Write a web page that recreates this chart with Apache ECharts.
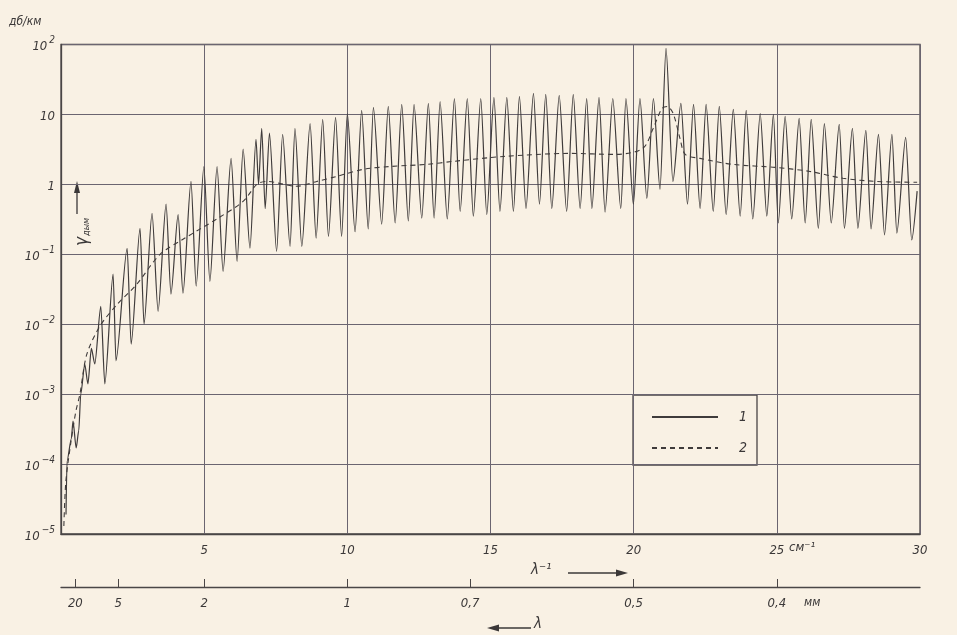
<!DOCTYPE html>
<html><head><meta charset="utf-8">
<script src="https://cdn.jsdelivr.net/npm/echarts@6/dist/echarts.min.js"></script>
<style>html,body{margin:0;padding:0;background:#f9f1e4;}#c{width:957px;height:635px;}</style>
</head><body><div id="c"></div>
<script>
// Curve 1: line spectrum (wavenumber cm^-1, attenuation dB/km)
const nu1 = [0.175, 0.21, 0.36, 0.42, 0.53, 0.62, 0.69, 0.83, 0.94, 1.06, 1.18,
1.39, 1.53, 1.82, 1.92, 2.31, 2.45, 2.76, 2.90, 3.18, 3.39, 3.67, 3.84, 4.09, 4.26, 4.54, 4.72, 4.99, 5.20, 5.45, 5.66, 5.94, 6.15, 6.36, 6.60, 6.81, 6.90, 7.01, 7.13, 7.28, 7.53, 7.74, 8.00, 8.17, 8.41, 8.70, 8.91, 9.14, 9.34, 9.59, 9.80, 10.00, 10.27, 10.50, 10.73, 10.91, 11.20, 11.43, 11.67, 11.90, 12.13, 12.33, 12.60, 12.83, 13.03, 13.24, 13.49, 13.74, 13.94, 14.19, 14.40, 14.66, 14.87, 15.12, 15.33, 15.57, 15.80, 16.01, 16.24, 16.50, 16.71, 16.93, 17.14, 17.40, 17.66, 17.89, 18.13, 18.36, 18.54, 18.79, 19.00, 19.27, 19.55, 19.73, 19.99, 20.22, 20.46, 20.69, 20.92, 21.13, 21.37, 21.65, 21.88, 22.09, 22.32, 22.53, 22.78, 22.99, 23.23, 23.48, 23.72, 23.93, 24.16, 24.42, 24.65, 24.88, 25.05, 25.29, 25.52, 25.78, 25.99, 26.20, 26.45, 26.66, 26.90, 27.18, 27.36, 27.64, 27.83, 28.11, 28.29, 28.55, 28.76, 29.02, 29.19, 29.50, 29.71, 29.90];
const gamma1 = [1.9e-5, 1.1e-4, 2.3e-4, 4.1e-4, 1.7e-4, 3.0e-4, 1.0e-3, 2.7e-3, 1.4e-3, 4.5e-3, 2.7e-3,
0.018, 1.4e-3, 0.052, 3.0e-3, 0.122, 5.2e-3, 0.235, 0.010, 0.385, 0.0153, 0.52, 0.027, 0.37, 0.0277, 1.1, 0.035, 1.8, 0.041, 1.8, 0.057, 2.35, 0.079, 3.2, 0.122, 4.4, 1.0, 6.3, 0.45, 5.4, 0.11, 5.2, 0.13, 6.3, 0.13, 7.4, 0.17, 8.5, 0.18, 9.1, 0.18, 10.3, 0.21, 11.4, 0.23, 12.6, 0.27, 13.0, 0.28, 13.9, 0.30, 13.9, 0.33, 14.4, 0.33, 15.3, 0.32, 16.9, 0.41, 16.9, 0.35, 16.9, 0.37, 17.5, 0.41, 17.5, 0.41, 18.1, 0.45, 20.0, 0.52, 19.3, 0.45, 18.7, 0.41, 19.3, 0.45, 16.9, 0.45, 17.5, 0.40, 16.9, 0.45, 16.9, 0.52, 16.9, 0.63, 16.9, 0.85, 88, 1.1, 14.4, 0.52, 13.9, 0.45, 13.9, 0.41, 13.0, 0.37, 11.8, 0.35, 11.4, 0.32, 10.3, 0.35, 10.0, 0.28, 9.4, 0.32, 8.8, 0.28, 8.5, 0.235, 7.4, 0.28, 7.2, 0.235, 6.3, 0.235, 5.9, 0.23, 5.2, 0.19, 5.2, 0.20, 4.7, 0.16, 0.8];
// Curve 2: smooth (dashed) curve
const nu2 = [0.10, 0.17, 0.35, 0.52, 0.66, 0.90, 1.36, 1.95, 2.64, 3.46, 4.26, 5.44, 6.36, 6.84, 7.18, 8.23, 8.93, 9.63, 10.55, 11.49, 12.78, 13.69, 15.44, 17.78, 19.35, 20.32, 20.68, 20.99, 21.17, 21.38, 21.62, 21.80, 22.32, 23.47, 24.94, 26.16, 27.31, 28.50, 29.90];
const gamma2 = [1.3e-5, 5.7e-5, 2.1e-4, 5.7e-4, 1.0e-3, 3.7e-3, 9.4e-3, 0.019, 0.037, 0.10, 0.164, 0.32, 0.57, 1.0, 1.1, 0.94, 1.1, 1.3, 1.64, 1.8, 1.93, 2.13, 2.5, 2.77, 2.68, 3.27, 6.3, 12.2, 13, 10.3, 4.5, 2.68, 2.35, 1.93, 1.75, 1.53, 1.22, 1.1, 1.07];
// Axis ticks
const xTicks = [5, 10, 15, 20, 25, 30];
const lambdaTicksMm = [20, 5, 2, 1, 0.7, 0.5, 0.4];
const lambdaLabels = ['20', '5', '2', '1', '0,7', '0,5', '0,4'];
const seriesNames = ['1', '2'];

const zip = (a, b) => a.slice(0, Math.min(a.length, b.length)).map((v, i) => [v, b[i]]);
const FONT = '"DejaVu Sans Condensed", "Liberation Sans Narrow", "DejaVu Sans", sans-serif';
const INK = '#3b3838';
const lambdaPos = lambdaTicksMm.map(l => 10 / l);

const chart = echarts.init(document.getElementById('c'), null, {renderer: 'canvas'});
chart.setOption({
  backgroundColor: '#f9f1e4',
  animation: false,
  textStyle: {fontFamily: FONT, color: INK, fontStyle: 'italic'},
  grid: {left: 61, right: 37, top: 44.5, bottom: 101, show: true, borderColor: '#4a4646', borderWidth: 1.3, backgroundColor: 'transparent'},
  legend: {
    left: 646, top: 405, orient: 'vertical', itemWidth: 66, itemHeight: 14, itemGap: 17,
    data: seriesNames,
    itemStyle: {opacity: 0},
    textStyle: {fontFamily: FONT, fontStyle: 'italic', fontSize: 14, color: INK, padding: [0, 0, 0, 16]}
  },
  xAxis: [{
    type: 'value', min: 0, max: 30, interval: 5,
    axisLine: {show: true, lineStyle: {color: '#4a4646', width: 1.3}},
    axisTick: {show: false},
    splitLine: {show: true, lineStyle: {color: '#6b6570', width: 1}},
    axisLabel: {
      margin: 10, fontSize: 13, fontStyle: 'italic', color: INK, fontFamily: FONT,
      formatter: v => (xTicks.indexOf(v) >= 0 ? String(v) : '')
    }
  }, {
    type: 'value', min: 0, max: 30, position: 'bottom', offset: 53,
    axisLine: {show: true, lineStyle: {color: '#4a4646', width: 1.3}},
    axisTick: {show: true, inside: true, length: 8, customValues: lambdaPos, lineStyle: {color: '#4a4646'}},
    splitLine: {show: false},
    axisLabel: {
      margin: 10, fontSize: 13, fontStyle: 'italic', color: INK, fontFamily: FONT,
      customValues: lambdaPos,
      formatter: v => {
        let best = 0;
        lambdaPos.forEach((p, i) => { if (Math.abs(p - v) < Math.abs(lambdaPos[best] - v)) best = i; });
        return lambdaLabels[best];
      }
    }
  }],
  yAxis: {
    type: 'log', logBase: 10, min: 1e-5, max: 100, interval: 1,
    axisLine: {show: true, lineStyle: {color: '#4a4646', width: 1.3}},
    axisTick: {show: false},
    splitLine: {show: true, lineStyle: {color: '#6b6570', width: 1}},
    axisLabel: {
      margin: 6, color: INK,
      formatter: v => {
        const e = Math.round(Math.log10(v));
        if (e === 0) return '{b|1}';
        if (e === 1) return '{b|10}';
        return '{b|10}{s|' + (e < 0 ? '\u2212' + (-e) : e) + '}';
      },
      rich: {
        b: {fontSize: 13, fontStyle: 'italic', fontFamily: FONT, color: INK, lineHeight: 18, verticalAlign: 'bottom'},
        s: {fontSize: 10, fontStyle: 'italic', fontFamily: FONT, color: INK, lineHeight: 18, verticalAlign: 'top', padding: [0, 0, 0, 2]}
      }
    }
  },
  graphic: [
    {type: 'text', left: 9, top: 16, style: {text: 'дб/км', font: 'italic 12px ' + FONT, fill: INK}},
    {type: 'text', left: 789, top: 541, style: {text: 'см\u207B\u00B9', font: 'italic 13px ' + FONT, fill: INK}},
    {type: 'text', left: 804, top: 597, style: {text: 'мм', font: 'italic 12px ' + FONT, fill: INK}},
    {type: 'text', left: 531, top: 563, style: {text: 'λ\u207B\u00B9', font: 'italic 15px ' + FONT, fill: INK}},
    {type: 'line', shape: {x1: 568, y1: 573, x2: 622, y2: 573}, style: {stroke: INK, lineWidth: 1.4}},
    {type: 'polygon', shape: {points: [[628, 573], [616, 569.5], [616, 576.5]]}, style: {fill: INK}},
    {type: 'line', shape: {x1: 494, y1: 628, x2: 531, y2: 628}, style: {stroke: INK, lineWidth: 1.4}},
    {type: 'polygon', shape: {points: [[487, 628], [499, 624.5], [499, 631.5]]}, style: {fill: INK}},
    {type: 'text', left: 534, top: 617, style: {text: 'λ', font: 'italic 15px ' + FONT, fill: INK}},
    {type: 'group', x: 83, y: 246, rotation: Math.PI / 2, children: [
      {type: 'text', x: 0, y: 0, style: {
        text: '{g|γ}{s|дым}', verticalAlign: 'middle', align: 'left',
        rich: {g: {font: 'italic 17px ' + FONT, fill: INK, verticalAlign: 'bottom'}, s: {font: 'italic 9px ' + FONT, fill: INK, verticalAlign: 'bottom', padding: [0, 0, 0, 1]}}
      }}
    ]},
    {type: 'line', shape: {x1: 77, y1: 214, x2: 77, y2: 190}, style: {stroke: INK, lineWidth: 1.3}},
    {type: 'polygon', shape: {points: [[77, 181], [74, 193], [80, 193]]}, style: {fill: INK}},
    {type: 'rect', shape: {x: 633, y: 395, width: 124, height: 70}, style: {fill: 'none', stroke: '#4a4646', lineWidth: 1.3}}
  ],
  series: [{
    name: seriesNames[0], type: 'line', xAxisIndex: 0, data: zip(nu1, gamma1),
    symbol: 'none', smooth: 0.25, smoothMonotone: 'x',
    lineStyle: {color: '#3f3b3b', width: 1.2}, itemStyle: {color: '#3f3b3b'}
  }, {
    name: seriesNames[1], type: 'line', xAxisIndex: 0, data: zip(nu2, gamma2),
    symbol: 'none', smooth: 0.3,
    lineStyle: {color: '#3f3b3b', width: 1.1, type: [5, 4]}, itemStyle: {color: '#3f3b3b'}
  }]
});
</script></body></html>
